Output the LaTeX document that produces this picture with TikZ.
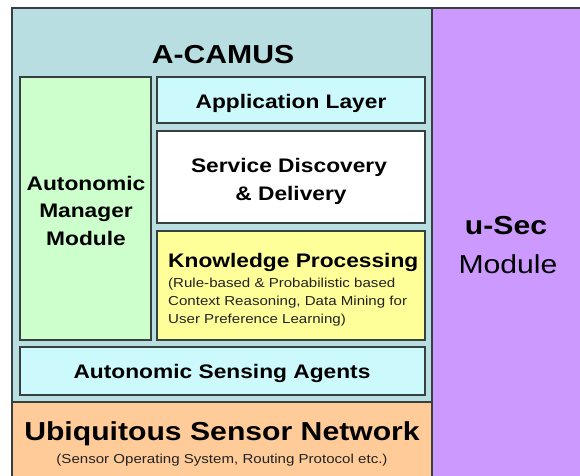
\documentclass[tikz,border=0pt]{standalone}
\usepackage{fontspec}
\setmainfont{Liberation Sans}[FakeStretch=1.16]
\definecolor{edge}{HTML}{36403F}
\definecolor{camusbg}{HTML}{B8DEE2}
\definecolor{secbg}{HTML}{CC99FF}
\definecolor{usnbg}{HTML}{FFCC99}
\definecolor{mgrbg}{HTML}{CCFFCC}
\definecolor{layerbg}{HTML}{CCFAFC}
\definecolor{kpbg}{HTML}{FFFF99}
\definecolor{subtext}{HTML}{222222}
\begin{document}
\begin{tikzpicture}[x=1pt,y=-1pt,
  box/.style={draw=edge, line width=1.3pt, inner sep=0pt, outer sep=0pt,
              anchor=north west, rectangle},
  lbl/.style={inner sep=0pt, anchor=base},
  lblw/.style={inner sep=0pt, anchor=base west},
  big/.style={font=\fontsize{26}{30}\selectfont\bfseries},
  bigreg/.style={font=\fontsize{26}{30}\selectfont},
  mid/.style={font=\fontsize{19.6}{28}\selectfont\bfseries},
  small/.style={font=\fontsize{13}{18}\selectfont, text=subtext}]
\useasboundingbox (0,0) rectangle (580,475);
\fill[white] (0,0) rectangle (580,475);

% outer frames
\node[box, fill=camusbg, minimum width=420pt, minimum height=394pt] (camus) at (12,8) {};
\node[box, fill=secbg,   minimum width=150pt, minimum height=470pt] (usec)  at (432,8) {};
\node[box, fill=usnbg,   minimum width=420pt, minimum height=80pt]  (usn)   at (12,402) {};

% inner blocks of A-CAMUS
\node[box, fill=mgrbg,   minimum width=131pt, minimum height=263pt] (mgr)   at (20,77) {};
\node[box, fill=layerbg, minimum width=268pt, minimum height=46pt]  (app)   at (157,77) {};
\node[box, fill=white,   minimum width=268pt, minimum height=92pt]  (sdd)   at (157,131) {};
\node[box, fill=kpbg,    minimum width=268pt, minimum height=109pt] (kp)    at (157,231) {};
\node[box, fill=layerbg, minimum width=405pt, minimum height=48pt]  (sense) at (20,347) {};

% labels
\node[lbl, big] (tcamus) at (223,63) {A-CAMUS};
\node[lbl, mid] (tapp) at (291,108) {Application Layer};
\node[lbl, mid] (tsdd1) at (289,172) {Service Discovery};
\node[lbl, mid] (tsdd2) at (291,200) {\& Delivery};
\node[lbl, mid] (tmgr1) at (86,190) {Autonomic};
\node[lbl, mid] (tmgr2) at (86,217.5) {Manager};
\node[lbl, mid] (tmgr3) at (86,245) {Module};
\node[lblw, mid] (tkp) at (168,267) {Knowledge Processing};
\node[lblw, small] (tkp1) at (168,287) {(Rule-based \& Probabilistic based};
\node[lblw, small] (tkp2) at (168,305) {Context Reasoning, Data Mining for};
\node[lblw, small] (tkp3) at (168,323) {User Preference Learning)};
\node[lbl, mid] (tsense) at (222,378) {Autonomic Sensing Agents};
\node[lbl, big] (tusn) at (222,440) {Ubiquitous Sensor Network};
\node[lbl, small] (tusn2) at (222,463) {(Sensor Operating System, Routing Protocol etc.)};
\node[lbl, big] (tsec1) at (506,234) {u-Sec};
\node[lbl, bigreg] (tsec2) at (508,273) {Module};
\end{tikzpicture}
\end{document}
